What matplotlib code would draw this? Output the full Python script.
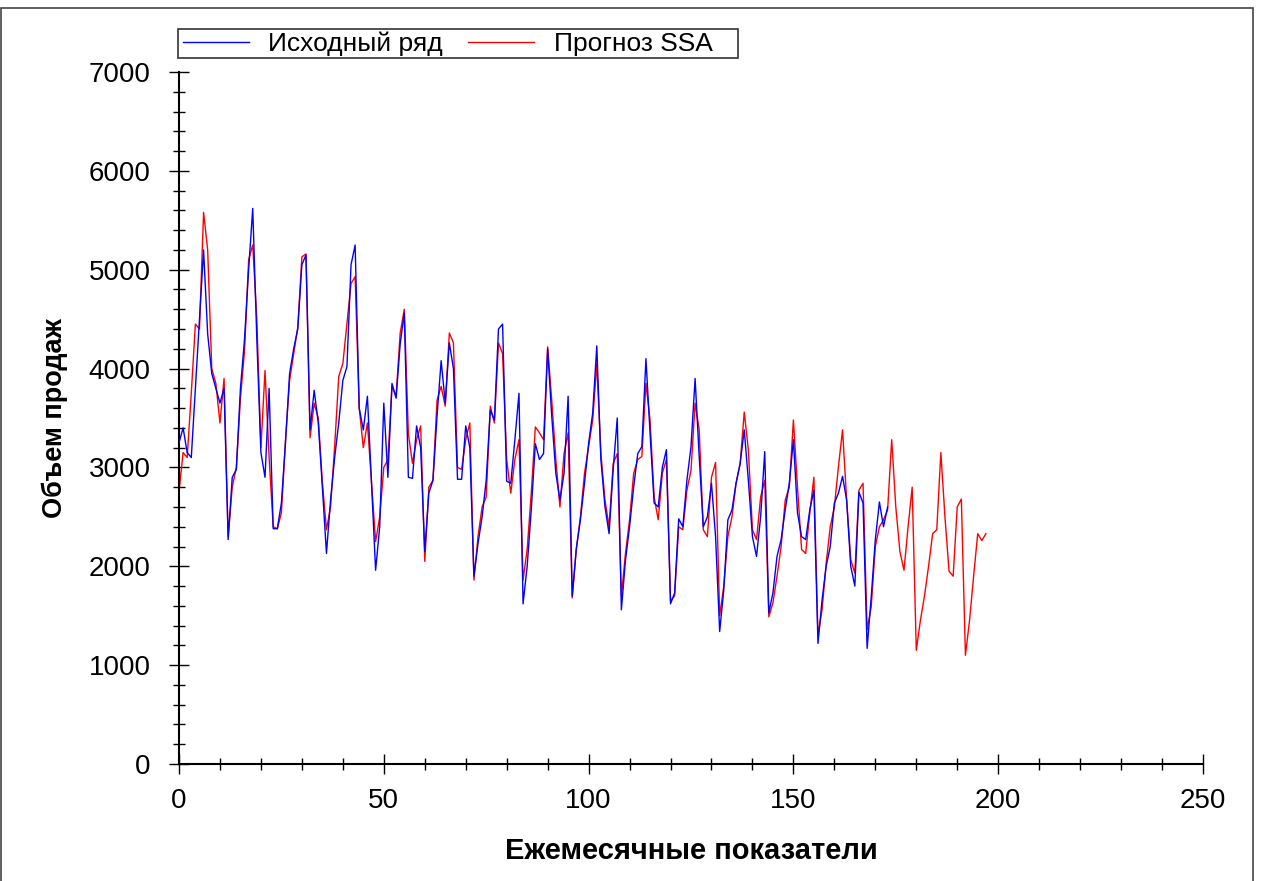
"""SSA forecast vs original monthly sales series."""

import matplotlib

matplotlib.use("Agg")
import matplotlib.pyplot as plt
import numpy as np
from matplotlib.patches import Rectangle
from matplotlib.ticker import MultipleLocator

plt.rcParams["font.family"] = ["Liberation Sans", "DejaVu Sans"]

# original series, months 0..173
original = [
    3250, 3400, 3150, 3100, 3800, 4500, 5200, 4350, 3950, 3800,
    3650, 3800, 2270, 2900, 2980, 3800, 4300, 5000, 5620, 4300,
    3150, 2900, 3800, 2380, 2380, 2640, 3250, 3950, 4200, 4400,
    5050, 5150, 3380, 3780, 3450, 2800, 2130, 2670, 3100, 3450,
    3880, 4020, 5050, 5250, 3600, 3380, 3720, 2840, 1960, 2400,
    3650, 2900, 3850, 3700, 4250, 4560, 2900, 2890, 3420, 3200,
    2150, 2740, 2870, 3520, 4080, 3650, 4260, 4000, 2880, 2880,
    3420, 3200, 1900, 2230, 2500, 2870, 3580, 3480, 4400, 4450,
    2860, 2840, 3280, 3750, 1620, 2000, 2570, 3240, 3080, 3140,
    4200, 3520, 2940, 2670, 2940, 3720, 1700, 2180, 2470, 2840,
    3240, 3550, 4230, 3080, 2600, 2330, 2980, 3500, 1560, 2060,
    2400, 2800, 3140, 3210, 4100, 3350, 2640, 2600, 3000, 3180,
    1620, 1730, 2480, 2400, 2870, 3210, 3900, 3110, 2400, 2500,
    2840, 2300, 1340, 1760, 2470, 2570, 2840, 3040, 3380, 2870,
    2300, 2100, 2500, 3160, 1530, 1730, 2100, 2270, 2570, 2840,
    3280, 2540, 2300, 2270, 2570, 2770, 1220, 1660, 2000, 2200,
    2640, 2740, 2910, 2670, 2000, 1800, 2750, 2640, 1170, 1690,
    2270, 2650, 2400, 2600,
]

# SSA reconstruction + forecast, months 0..197
forecast = [
    2750, 3150, 3100, 3750, 4450, 4400, 5580, 5200, 4000, 3850,
    3450, 3900, 2300, 2800, 3000, 3700, 4180, 5100, 5250, 4500,
    3200, 3980, 3100, 2400, 2380, 2540, 3280, 3880, 4150, 4420,
    5130, 5160, 3300, 3650, 3500, 2850, 2370, 2600, 3210, 3920,
    4050, 4460, 4860, 4930, 3600, 3200, 3450, 2850, 2250, 2500,
    3000, 3080, 3820, 3720, 4360, 4600, 3340, 3040, 3280, 3420,
    2050, 2800, 2870, 3680, 3820, 3620, 4360, 4260, 3000, 2980,
    3280, 3450, 1860, 2300, 2600, 2700, 3620, 3450, 4260, 4150,
    3080, 2740, 3080, 3280, 1860, 2170, 2740, 3410, 3350, 3280,
    4220, 3680, 3080, 2600, 3140, 3350, 1680, 2170, 2500, 2940,
    3210, 3480, 4050, 3140, 2670, 2400, 3040, 3140, 1700, 2130,
    2470, 2940, 3080, 3110, 3850, 3480, 2700, 2470, 2940, 3080,
    1650, 1700, 2400, 2370, 2770, 2970, 3650, 3380, 2370, 2300,
    2900, 3050, 1500, 1800, 2300, 2500, 2840, 3040, 3560, 3180,
    2370, 2270, 2700, 2870, 1490, 1630, 1900, 2200, 2670, 2800,
    3480, 2800, 2170, 2130, 2540, 2900, 1300, 1560, 2030, 2400,
    2600, 3010, 3380, 2670, 2070, 1930, 2770, 2840, 1360, 1590,
    2200, 2400, 2470, 2570, 3280, 2600, 2150, 1960, 2400, 2800,
    1150, 1450, 1700, 2000, 2330, 2370, 3150, 2500, 1950, 1900,
    2600, 2680, 1100, 1450, 1900, 2330, 2260, 2330,
]

W, H = 1261, 881
fig = plt.figure(figsize=(W / 100, H / 100), dpi=100)
ax = fig.add_axes([179 / W, 1 - 764 / H, 1024 / W, 692 / H])

ax.plot(np.arange(len(forecast)), forecast, color="#ff0000", lw=1.0,
        label="Прогноз SSA", zorder=2)
ax.plot(np.arange(len(original)), original, color="#0000ff", lw=1.0,
        label="Исходный ряд", zorder=3)

ax.set_xlim(0, 250)
ax.set_ylim(0, 7000)
ax.xaxis.set_major_locator(MultipleLocator(50))
ax.xaxis.set_minor_locator(MultipleLocator(10))
ax.yaxis.set_major_locator(MultipleLocator(1000))
ax.yaxis.set_minor_locator(MultipleLocator(200))
ax.tick_params(which="major", direction="inout", length=15, width=1,
               labelsize=20)
ax.tick_params(which="minor", direction="inout", length=8.5, width=1)
ax.tick_params(axis="x", which="major", pad=10)
ax.tick_params(axis="y", which="major", pad=13)

for side in ("top", "right"):
    ax.spines[side].set_visible(False)
for side in ("left", "bottom"):
    ax.spines[side].set_linewidth(1.5)

ax.set_xlabel("Ежемесячные показатели", fontsize=21, fontweight="bold",
              labelpad=16)
ax.set_ylabel("Объем продаж", fontsize=19.5, fontweight="bold", labelpad=15)

# legend without its own frame; the box is drawn below at its fixed size
handles, labels = ax.get_legend_handles_labels()
fig.legend(handles[::-1], labels[::-1], ncol=2, fontsize=19,
           loc="lower left", bbox_to_anchor=(180 / W, 1 - 59 / H),
           borderaxespad=0, frameon=False,
           handlelength=2.5, columnspacing=0.95, borderpad=0.1,
           handletextpad=0.75)
fig.patches.append(Rectangle((178 / W, 1 - 58 / H), 560 / W, 29 / H,
                             transform=fig.transFigure, fill=False,
                             edgecolor="#333333", lw=1.2))

# thin frame around the whole picture
fig.patches.append(Rectangle((0.001, -0.01), 1252 / W, 1 - 8 / H + 0.01,
                             transform=fig.transFigure, fill=False,
                             edgecolor="#444444", lw=1.2))

fig.savefig("out.png", dpi=100)
